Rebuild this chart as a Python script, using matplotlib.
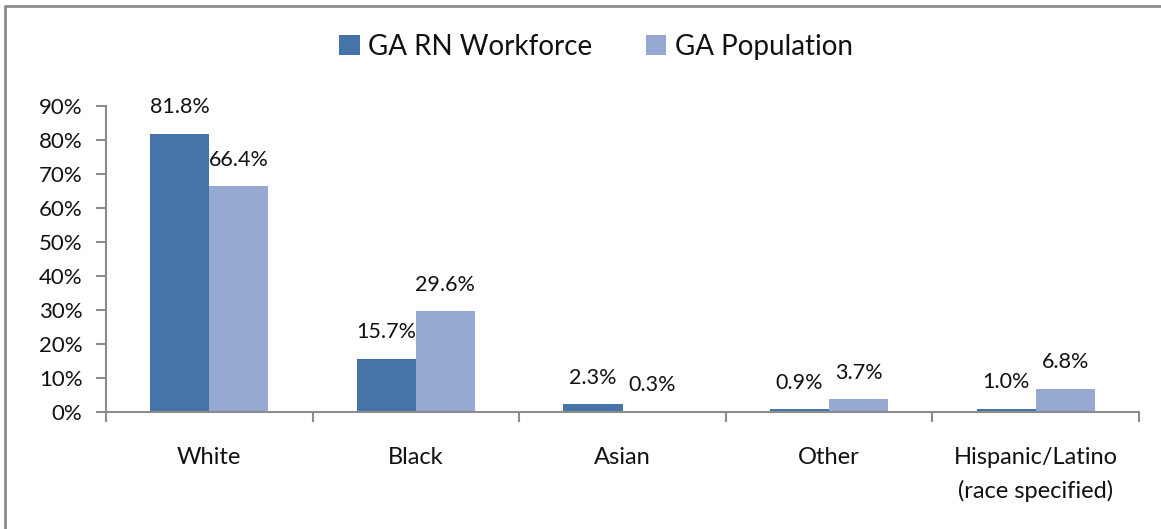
import matplotlib
matplotlib.use("Agg")
import matplotlib.pyplot as plt
from matplotlib.lines import Line2D
import numpy as np

categories = ["White", "Black", "Asian", "Other", "Hispanic/Latino\n(race specified)"]
rn_workforce = [81.8, 15.7, 2.3, 0.9, 1.0]
ga_population = [66.4, 29.6, 0.3, 3.7, 6.8]
series_names = ["GA RN Workforce", "GA Population"]
yticks = [0, 10, 20, 30, 40, 50, 60, 70, 80, 90]

plt.rcParams['font.family'] = ['Lato', 'DejaVu Sans']

W, H = 1161, 529
fig = plt.figure(figsize=(W / 100, H / 100), dpi=100)
fig.patch.set_facecolor("white")

# outer chart border (only top and left visible)
fig.add_artist(Line2D([5 / W, 5 / W, 1.0], [0.0, 1 - 6 / H, 1 - 6 / H],
                      transform=fig.transFigure, color="#8c8c8c", linewidth=2))

ax = fig.add_axes([106 / W, 1 - 412 / H, (1139 - 106) / W, (412 - 106) / H])

dark = "#4673A8"
light = "#95A9D1"
x = np.arange(len(categories))
bw = 1 / 3.5
b1 = ax.bar(x - bw / 2, rn_workforce, width=bw, color=dark, label=series_names[0])
b2 = ax.bar(x + bw / 2, ga_population, width=bw, color=light, label=series_names[1])

for bars, vals in ((b1, rn_workforce), (b2, ga_population)):
    for rect, v in zip(bars, vals):
        ax.annotate(f"{v:.1f}%", (rect.get_x() + rect.get_width() / 2, v),
                    xytext=(0, 19), textcoords="offset points",
                    ha="center", va="center", fontsize=15.5, color="#111111")

ax.set_xlim(-0.5, len(categories) - 0.5)
ax.set_ylim(0, 90)
ax.set_yticks(yticks)
ax.set_yticklabels([f"{t}%" for t in yticks], fontsize=16, color="#111111")
ax.set_xticks(x)
ax.set_xticklabels(categories, fontsize=17, color="#111111", linespacing=1.65)
ax.set_xticks(np.arange(-0.5, len(categories)), minor=True)

for s in ("top", "right"):
    ax.spines[s].set_visible(False)
for s in ("left", "bottom"):
    ax.spines[s].set_color("#8c8c8c")
    ax.spines[s].set_linewidth(1.5)

ax.tick_params(axis="y", length=7, width=1.5, color="#8c8c8c", pad=10)
ax.tick_params(axis="x", which="major", length=0, pad=25)
ax.tick_params(axis="x", which="minor", length=7, width=1.5, color="#8c8c8c")

leg = fig.legend(loc="center", bbox_to_anchor=(596 / W, 1 - 47 / H), ncol=2,
                 frameon=False, fontsize=20, handlelength=0.75, handleheight=0.75,
                 handletextpad=0.3, columnspacing=1.9)
for t in leg.get_texts():
    t.set_color("#111111")

fig.savefig("out.png", dpi=100, facecolor="white")
